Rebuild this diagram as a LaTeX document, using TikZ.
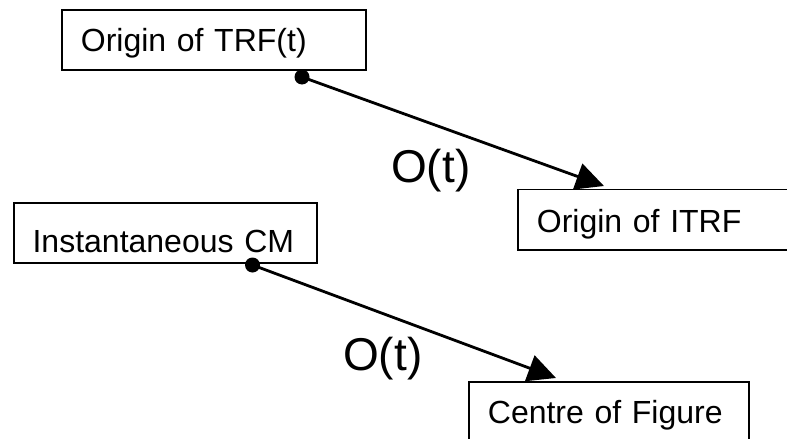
\documentclass[tikz,border=0pt]{standalone}
\usepackage{fontspec}
\setmainfont{Liberation Sans}
\usetikzlibrary{arrows.meta}
\tikzset{
 box/.style={draw, line width=1.8pt, anchor=north west, inner xsep=19pt, inner ysep=0pt, align=left, font=\fontsize{32}{38}\selectfont},
 dotnode/.style={circle, fill=black, inner sep=0pt, minimum size=15pt},
 conn/.style={line width=2.8pt, -{Triangle[length=28pt,width=27pt]}},
 lbl/.style={anchor=base west, inner sep=0pt, font=\fontsize{46}{55}\selectfont}
}
\begin{document}
\begin{tikzpicture}[x=1pt,y=-1pt]
\useasboundingbox (0,0) rectangle (787,439);
\clip (0,0) rectangle (787,439);
\node[box, text width=266pt, text height=41.5pt, text depth=18.5pt] (b1) at (61,9) {Origin of TRF(t)};
\node[box, text width=270pt, text height=43pt, text depth=17.5pt] (b2) at (517,188.5) {Origin of ITRF};
\node[box, text width=265pt, text height=49.7pt, text depth=10pt] (b3) at (12.7,202) {Instantaneous CM};
\node[box, text width=242pt, text height=41.7pt, text depth=30pt] (b4) at (468,381) {Centre of Figure};
\node[dotnode] (d1) at (302,77) {};
\node[dotnode] (d2) at (252.5,265) {};
\coordinate (t1) at (604,186);
\coordinate (t2) at (556,378);
\draw[conn] (d1.center) -- (t1);
\draw[conn] (d2.center) -- (t2);
\node[lbl] (o1) at (391,182) {O(t)};
\node[lbl] (o2) at (343,370) {O(t)};
\end{tikzpicture}
\end{document}
